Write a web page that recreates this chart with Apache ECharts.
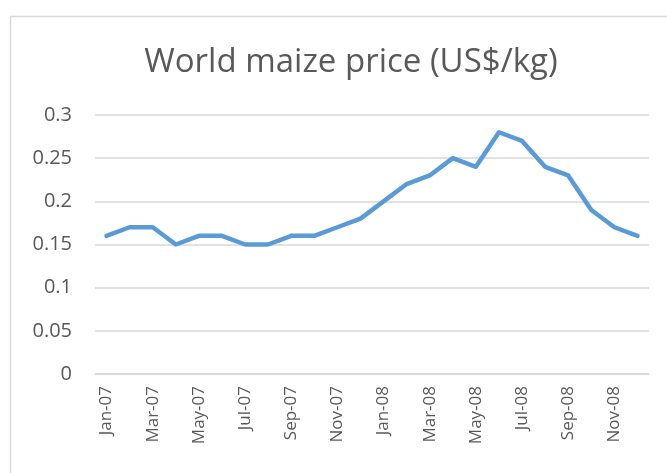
<!DOCTYPE html>
<html>
<head>
<meta charset="utf-8">
<script src="https://cdn.jsdelivr.net/npm/echarts@6/dist/echarts.min.js"></script>
<style>
  html, body { margin: 0; padding: 0; background: #fff; }
  #chart { width: 667px; height: 473px; }
</style>
</head>
<body>
<div id="chart"></div>
<script>
// months shown on the x axis
var months = ['Jan-07', 'Feb-07', 'Mar-07', 'Apr-07', 'May-07', 'Jun-07',
  'Jul-07', 'Aug-07', 'Sep-07', 'Oct-07', 'Nov-07', 'Dec-07',
  'Jan-08', 'Feb-08', 'Mar-08', 'Apr-08', 'May-08', 'Jun-08',
  'Jul-08', 'Aug-08', 'Sep-08', 'Oct-08', 'Nov-08', 'Dec-08'];

// price, US$/kg
var prices = [0.16, 0.17, 0.17, 0.15, 0.16, 0.16,
  0.15, 0.15, 0.16, 0.16, 0.17, 0.18,
  0.20, 0.22, 0.23, 0.25, 0.24, 0.28,
  0.27, 0.24, 0.23, 0.19, 0.17, 0.16];

var titleText = 'World maize price (US$/kg)';

var myChart = echarts.init(document.getElementById('chart'));
var font = '"Open Sans", sans-serif';

var option = {
  animation: false,
  title: {
    text: titleText,
    left: 346,
    textAlign: 'center',
    top: 41,
    textStyle: {
      fontFamily: font,
      fontSize: 33,
      fontWeight: 'normal',
      color: '#595959'
    }
  },
  // chart area border, Excel style
  graphic: [{
    type: 'rect',
    shape: { x: 10.5, y: 16.5, width: 700, height: 500 },
    style: { fill: 'none', stroke: '#d9d9d9', lineWidth: 1.5 },
    silent: true
  }],
  grid: {
    left: 95,
    right: 18,
    top: 115,
    bottom: 99
  },
  xAxis: {
    type: 'category',
    data: months,
    boundaryGap: true,
    axisLine: { lineStyle: { color: '#d9d9d9', width: 1.5 } },
    axisTick: { interval: 1, length: 6, lineStyle: { color: '#d9d9d9', width: 1.5 } },
    axisLabel: {
      interval: 1,
      rotate: 90,
      margin: 12,
      fontFamily: font,
      fontSize: 17,
      color: '#595959'
    }
  },
  yAxis: {
    type: 'value',
    min: 0,
    max: 0.3,
    interval: 0.05,
    axisLine: { show: false },
    axisTick: { show: false },
    splitLine: { lineStyle: { color: '#d9d9d9', width: 1.5 } },
    axisLabel: {
      margin: 23,
      fontFamily: font,
      fontSize: 20,
      color: '#595959'
    }
  },
  series: [{
    type: 'line',
    data: prices,
    symbol: 'none',
    lineStyle: { color: '#5b9bd5', width: 4.5, cap: 'round', join: 'round' }
  }]
};

option && myChart.setOption(option);
</script>
</body>
</html>
